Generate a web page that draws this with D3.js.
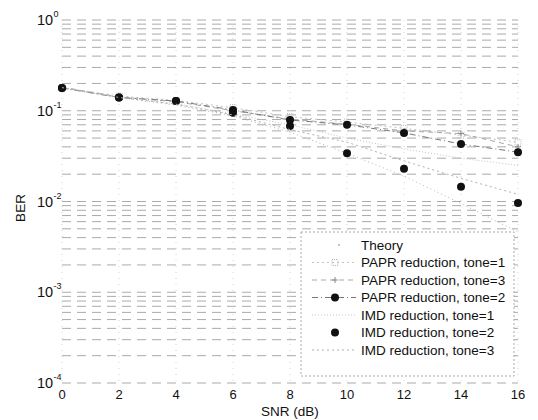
<!DOCTYPE html>
<html>
<head>
<meta charset="utf-8">
<script src="https://cdn.jsdelivr.net/npm/d3@7"></script>
<style>
  body { margin: 0; background: #fff; }
  text { font-family: "Liberation Sans", Arial, sans-serif; fill: #111; }
</style>
</head>
<body>
<div id="chart"></div>
<script>
// SNR points (dB)
var snr = [0, 2, 4, 6, 8, 10, 12, 14, 16];

// BER
var theory      = [0.178, 0.140, 0.115, 0.088, 0.058, 0.034, 0.019, 0.0095, 0.0046];
var paprTone1   = [0.180, 0.145, 0.130, 0.108, 0.086, 0.075, 0.064, 0.054, 0.045];
var paprTone3   = [0.182, 0.142, 0.126, 0.100, 0.081, 0.071, 0.060, 0.056, 0.040];
var paprTone2   = [0.178, 0.140, 0.128, 0.102, 0.079, 0.070, 0.057, 0.043, 0.035];
var imdTone1    = [0.180, 0.140, 0.120, 0.092, 0.070, 0.050, 0.038, 0.030, 0.025];
var imdTone2    = [0.178, 0.140, 0.128, 0.095, 0.068, 0.034, 0.023, 0.0145, 0.0096];
var imdTone3    = [0.180, 0.140, 0.118, 0.090, 0.062, 0.045, 0.028, 0.018, 0.012];

var legendNames = ["Theory", "PAPR reduction, tone=1", "PAPR reduction, tone=3",
                   "PAPR reduction, tone=2", "IMD reduction, tone=1",
                   "IMD reduction, tone=2", "IMD reduction, tone=3"];

var xTicks = [0, 2, 4, 6, 8, 10, 12, 14, 16];
var yExps  = [0, -1, -2, -3, -4];

var W = 538, H = 420;
var x = d3.scaleLinear().domain([0, 16]).range([62, 518]);
var y = d3.scaleLog().domain([1e-4, 1]).range([383, 20]);

var svg = d3.select("#chart").append("svg").attr("width", W).attr("height", H);

// grid: minor + major horizontal lines (log), vertical at ticks
var hVals = [];
for (var e = -4; e < 0; e++) {
    for (var m = 1; m < 10; m++) hVals.push(m * Math.pow(10, e));
}
hVals.push(1);
svg.append("g").selectAll("line").data(hVals).enter().append("line")
    .attr("x1", x(0)).attr("x2", x(16))
    .attr("y1", function(d){ return y(d); }).attr("y2", function(d){ return y(d); })
    .attr("stroke", "#aaa")
    .attr("stroke-width", 1)
    .attr("stroke-dasharray", "9,6");

svg.append("g").selectAll("line").data(xTicks).enter().append("line")
    .attr("x1", function(d){ return x(d); }).attr("x2", function(d){ return x(d); })
    .attr("y1", y(1)).attr("y2", y(1e-4))
    .attr("stroke", "#d4d4d4").attr("stroke-width", 1)
    .attr("stroke-dasharray", "1,5");

// axes tick labels
svg.append("g").selectAll("text").data(xTicks).enter().append("text")
    .attr("x", function(d){ return x(d); }).attr("y", 399)
    .attr("text-anchor", "middle").attr("font-size", 13)
    .text(function(d){ return d; });

var yl = svg.append("g").selectAll("g").data(yExps).enter().append("g")
    .attr("transform", function(d){ return "translate(0," + y(Math.pow(10, d)) + ")"; });
yl.append("text").attr("x", 37).attr("y", 5).attr("font-size", 14.5).text("10");
yl.append("text").attr("x", 53.5).attr("y", -3).attr("font-size", 9)
    .text(function(d){ return d === 0 ? "0" : "-" + Math.abs(d); });

svg.append("text").attr("x", x(8)).attr("y", 416).attr("text-anchor", "middle")
    .attr("font-size", 13.5).text("SNR (dB)");
svg.append("text").attr("transform", "translate(25,208) rotate(-90)")
    .attr("text-anchor", "middle").attr("font-size", 13.5).text("BER");

// series
var series = [
    {name: legendNames[0], vals: theory,    stroke: "#b4b4b4", dash: "1,3",  marker: "none"},
    {name: legendNames[1], vals: paprTone1, stroke: "#c4c4c4", dash: "2,3",  marker: "square"},
    {name: legendNames[2], vals: paprTone3, stroke: "#a8a8a8", dash: "5,4",  marker: "plus"},
    {name: legendNames[3], vals: paprTone2, stroke: "#777", dash: "6,3,1,3", marker: "dot"},
    {name: legendNames[4], vals: imdTone1,  stroke: "#c4c4c4", dash: "1,2",  marker: "none"},
    {name: legendNames[5], vals: imdTone2,  stroke: "none", dash: null,   marker: "dot"},
    {name: legendNames[6], vals: imdTone3,  stroke: "#b0b0b0", dash: "2,3",  marker: "none"}
];

var line = d3.line()
    .x(function(d, i){ return x(snr[i]); })
    .y(function(d){ return y(d); });

function drawMarker(g, kind, cx, cy) {
    if (kind === "dot") {
        g.append("circle").attr("cx", cx).attr("cy", cy).attr("r", 4).attr("fill", "#111");
    } else if (kind === "square") {
        g.append("rect").attr("x", cx - 3).attr("y", cy - 3).attr("width", 6).attr("height", 6)
            .attr("fill", "none").attr("stroke", "#bbb").attr("stroke-dasharray", "1,1");
    } else if (kind === "plus") {
        g.append("path").attr("d", "M" + (cx - 3) + "," + cy + "h6M" + cx + "," + (cy - 3) + "v6")
            .attr("stroke", "#888").attr("stroke-width", 1);
    }
}

series.forEach(function(s){
    var g = svg.append("g");
    if (s.stroke !== "none") {
        g.append("path").datum(s.vals).attr("d", line)
            .attr("fill", "none").attr("stroke", s.stroke).attr("stroke-width", 1)
            .attr("stroke-dasharray", s.dash);
    }
    s.vals.forEach(function(v, i){ drawMarker(g, s.marker, x(snr[i]), y(v)); });
});

// legend
var lg = svg.append("g");
lg.append("rect").attr("x", 301).attr("y", 232).attr("width", 213).attr("height", 144)
    .attr("fill", "#fff").attr("stroke", "#aaa").attr("stroke-dasharray", "2,2");
series.forEach(function(s, i){
    var ly = 245 + i * 17.5;
    if (s.name === "Theory") {
        lg.append("circle").attr("cx", 339).attr("cy", ly).attr("r", 0.8).attr("fill", "#777");
    } else if (s.stroke !== "none") {
        lg.append("line").attr("x1", 312).attr("x2", 356).attr("y1", ly).attr("y2", ly)
            .attr("stroke", s.stroke).attr("stroke-dasharray", s.dash);
    }
    drawMarker(lg, s.marker, 335, ly);
    lg.append("text").attr("x", 361).attr("y", ly + 4.5).attr("font-size", 13.5).text(s.name);
});
</script>
</body>
</html>
